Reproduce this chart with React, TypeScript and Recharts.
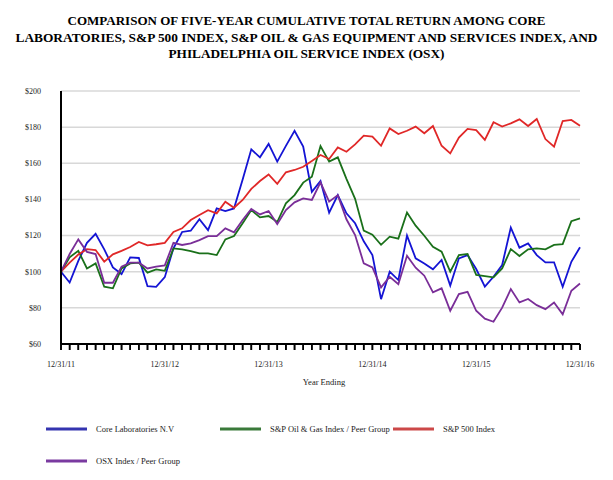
import React from 'react';
import { LineChart, Line, XAxis, YAxis, CartesianGrid } from 'recharts';

const titleLines = [
  'COMPARISON OF FIVE-YEAR CUMULATIVE TOTAL RETURN AMONG CORE',
  'LABORATORIES, S&P 500 INDEX,  S&P OIL & GAS EQUIPMENT AND SERVICES INDEX, AND',
  'PHILADELPHIA OIL SERVICE INDEX (OSX)',
];

const yearLabels = ['12/31/11', '12/31/12', '12/31/13', '12/31/14', '12/31/15', '12/31/16'];

const yTicks = [60, 80, 100, 120, 140, 160, 180, 200];

const coreLab = [
  100, 94, 106, 116, 121, 112.4, 102.4, 98.7, 107.9, 107.6, 92, 91.6,
  97, 113, 122, 122.7, 129, 123, 135, 133.6, 135, 151, 167.7, 163.3,
  170.7, 160.9, 169.6, 178, 169.2, 144.2, 150.2, 132.7, 142.4, 132.3, 126.8, 116.8,
  109.2, 84.8, 100, 95.4, 120, 107.4, 104.6, 101.3, 106.5, 92.3, 107.4, 109.2,
  101.5, 91.7, 97.2, 103.7, 124.4, 113.3, 115.7, 109.2, 105.2, 105.2, 91.7, 105.5,
  113.5,
];

const spOilGas = [
  100, 108, 111.6, 101.8, 104.6, 91.7, 90.8, 101.8, 104.6, 105, 99.5, 101.3,
  100.5, 112.9, 112.4, 111.4, 110.1, 110.1, 109.2, 117.9, 119.7, 126.8, 134.1, 130.1,
  130.8, 127.5, 137.8, 142.4, 149.3, 152.6, 169.5, 160.9, 163.3, 151.4, 140.3, 122.7,
  120.5, 114.9, 119.4, 118.3, 132.8, 125.5, 119.9, 113.8, 111.1, 100, 109.2, 109.8,
  98.2, 97.5, 96.9, 101.8, 112.5, 108.7, 112.4, 112.9, 112.4, 114.8, 115.3, 128,
  129.5,
];

const sp500 = [
  100, 105, 109.5, 112.5, 112, 105.6, 109.6, 111.5, 113.7, 116.5, 114.6, 115.2,
  116, 122, 124, 128.6, 131.4, 134, 132.3, 138.7, 135.4, 139.7, 145.8, 150.2,
  153.8, 148.6, 155, 156.3, 158.1, 161.3, 164.6, 162.4, 168.8, 166.4, 170.5, 175.3,
  174.7, 169.7, 179.3, 176.2, 178, 180.3, 176.6, 180.6, 169.7, 165.5, 174.2, 179,
  178.4, 173, 182.7, 180.3, 182.1, 184.3, 180.6, 184.5, 173.4, 169.2, 183.4, 184,
  180.8,
];

const osx = [
  100, 109.8, 117.9, 111, 109.8, 93.9, 93.9, 102.8, 105, 105, 101.8, 102.8,
  103.5, 116, 114.8, 115.7, 117.5, 119.7, 119.7, 124, 121.8, 128.6, 134.7, 131.7,
  133.6, 126.4, 134.1, 138.4, 140.6, 139.7, 149.4, 138.8, 142.4, 129, 120.3, 104.6,
  102.4, 91.3, 97.2, 93.1, 108.8, 102.2, 97.8, 88.6, 90.8, 78.4, 87.6, 88.9,
  78.4, 74, 72.3, 80.1, 90.4, 83, 84.9, 81.5, 79.3, 83, 76.4, 89.5,
  93.5,
];

const seriesList = [
  { key: 'core', name: 'Core Laboratories N.V', color: '#1414d4', legendColor: '#3434b0', values: coreLab },
  { key: 'oilgas', name: 'S&P Oil & Gas Index / Peer Group', color: '#1a701a', legendColor: '#3a7a3a', values: spOilGas },
  { key: 'sp500', name: 'S&P 500 Index', color: '#e02828', legendColor: '#cc4848', values: sp500 },
  { key: 'osx', name: 'OSX Index / Peer Group', color: '#7a2e98', legendColor: '#7a3aa0', values: osx },
];

const data = coreLab.map((_, i) => {
  const row: Record<string, number> = { m: i };
  seriesList.forEach((s) => {
    row[s.key] = s.values[i];
  });
  return row;
});

const monthTicks = coreLab.map((_, i) => i);

const legendPos = [
  { x: 46, y: 429 },
  { x: 220, y: 429 },
  { x: 393, y: 429 },
  { x: 46, y: 461 },
];

const titleWidths = [478, 582, 276];
const titleY = [25, 41.5, 58];

const FONT = '"Liberation Serif", "Times New Roman", serif';

// plot frame (chart margins)
const PLOT_LEFT = 61;
const PLOT_RIGHT = 580;
const PLOT_BOTTOM = 344;

function MonthTick(props: any) {
  const { x, y, payload } = props;
  const v = Number(payload.value);
  const label = v % 12 === 0 ? yearLabels[v / 12] : '';
  if (!label) return <g />;
  return (
    <text x={x} y={y} dy="0.71em" textAnchor="middle" fontSize={8} fill="#222" fontFamily={FONT}>
      {label}
    </text>
  );
}

export default function App() {
  const step = (PLOT_RIGHT - PLOT_LEFT) / (monthTicks.length - 1);
  return (
    <div style={{ position: 'absolute', left: 0, top: 0, width: 613, height: 480, background: '#fff' }}>
      <LineChart
        width={613}
        height={480}
        data={data}
        margin={{ top: 91, right: 613 - PLOT_RIGHT, left: 0, bottom: 106 }}
      >
        <CartesianGrid horizontal vertical={false} stroke="#d8d8d8" strokeWidth={1.5} />
        <XAxis
          dataKey="m"
          type="number"
          domain={[0, 60]}
          ticks={monthTicks}
          interval={0}
          height={30}
          axisLine={{ stroke: '#000', strokeWidth: 2 }}
          tickLine={{ stroke: '#000', strokeWidth: 1.6 }}
          tickSize={6}
          tickMargin={11}
          tick={<MonthTick />}
        />
        <YAxis
          type="number"
          domain={[60, 200]}
          ticks={yTicks}
          width={PLOT_LEFT}
          tickFormatter={(v: number) => `$${v}`}
          axisLine={{ stroke: '#000', strokeWidth: 2 }}
          tickLine={false}
          tickSize={0}
          tickMargin={20}
          tick={{ fontSize: 8, fill: '#222', fontFamily: FONT }}
        />
        {seriesList.map((s) => (
          <Line
            key={s.key}
            type="linear"
            dataKey={s.key}
            name={s.name}
            stroke={s.color}
            strokeWidth={1.8}
            dot={false}
            activeDot={false}
            isAnimationActive={false}
          />
        ))}
      </LineChart>
      <svg
        width={613}
        height={480}
        style={{ position: 'absolute', left: 0, top: 0, pointerEvents: 'none', zIndex: 2 }}
      >
        {monthTicks.map((m) => (
          <rect
            key={m}
            x={PLOT_LEFT + m * step - 0.8}
            y={PLOT_BOTTOM}
            width={1.6}
            height={6}
            fill="#000"
          />
        ))}
        {titleLines.map((t, i) => (
          <text
            key={i}
            x={306.5}
            y={titleY[i]}
            textAnchor="middle"
            fontFamily={FONT}
            fontWeight="bold"
            fontSize={13}
            fill="#000"
            textLength={titleWidths[i]}
            lengthAdjust="spacingAndGlyphs"
          >
            {t}
          </text>
        ))}
        <text x={324} y={385} textAnchor="middle" fontFamily={FONT} fontSize={8.5} fill="#222">
          Year Ending
        </text>
        {seriesList.map((s, i) => (
          <g key={s.key}>
            <line
              x1={legendPos[i].x}
              x2={legendPos[i].x + 41}
              y1={legendPos[i].y}
              y2={legendPos[i].y}
              stroke={s.legendColor}
              strokeWidth={3}
            />
            <text
              x={legendPos[i].x + 50}
              y={legendPos[i].y + 3}
              fontFamily={FONT}
              fontSize={8.5}
              fill="#222"
            >
              {s.name}
            </text>
          </g>
        ))}
      </svg>
    </div>
  );
}
